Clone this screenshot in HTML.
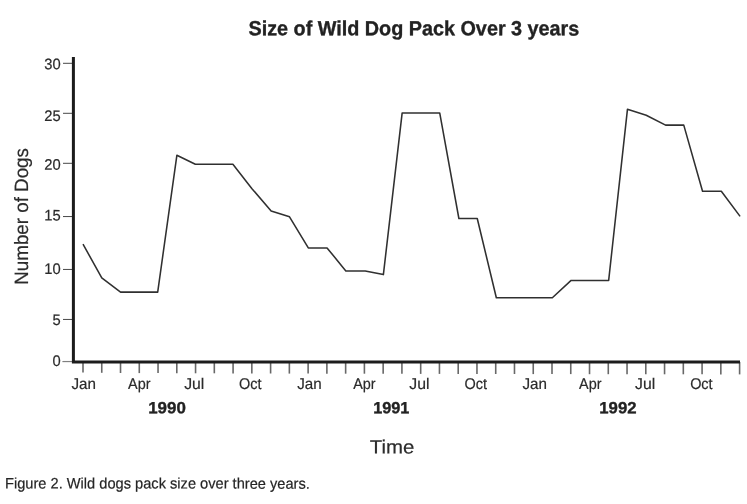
<!DOCTYPE html>
<html lang="en">
<head>
<meta charset="utf-8">
<title>Size of Wild Dog Pack Over 3 years</title>
<style>
html,body{margin:0;padding:0;background:#fff;}
body{width:747px;height:504px;overflow:hidden;position:relative;font-family:"Liberation Sans", Arial, Helvetica, sans-serif;}
figure{margin:0;padding:0;position:absolute;left:0;top:0;width:747px;height:504px;}
svg{display:block;position:absolute;left:0;top:0;}
svg text{font-family:"Liberation Sans", Arial, Helvetica, sans-serif;fill:#2b2b2b;stroke:#2b2b2b;stroke-width:0.2px;text-rendering:geometricPrecision;}
svg text.b{font-weight:bold;fill:#222;stroke:#222;stroke-width:0.35px;}
figcaption{position:absolute;left:5px;top:475px;margin:0;white-space:nowrap;font-size:15.2px;line-height:18px;color:#252525;-webkit-text-stroke:0.2px #252525;text-rendering:geometricPrecision;transform-origin:0 0;transform:translateY(0.5px) rotate(0.03deg) scaleX(0.963);}
</style>
</head>
<body>
<figure>
<svg width="747" height="466" viewBox="0 0 747 466" role="img" aria-label="Line chart: size of wild dog pack over 3 years">
<rect x="0" y="0" width="747" height="466" fill="#ffffff"/>
<g font-size="20.4" text-anchor="middle">
<text class="b" x="413.90" y="35.30" transform="rotate(0.03 413.90 35.30)" textLength="330.8" lengthAdjust="spacingAndGlyphs">Size of Wild Dog Pack Over 3 years</text>
</g>
<text transform="translate(27.6,216.4) rotate(-90)" text-anchor="middle" font-size="19.3" textLength="136.6" lengthAdjust="spacingAndGlyphs">Number of Dogs</text>
<g font-size="19.3" text-anchor="middle">
<text x="392.00" y="453.60" transform="rotate(0.03 392.00 453.60)" textLength="44.6" lengthAdjust="spacingAndGlyphs">Time</text>
</g>
<g stroke="#484848" stroke-width="1" fill="none">
<line x1="63.0" y1="63.3" x2="72.5" y2="63.3"/>
<line x1="63.0" y1="113.3" x2="72.5" y2="113.3"/>
<line x1="63.0" y1="163.3" x2="72.5" y2="163.3"/>
<line x1="63.0" y1="216.55" x2="72.5" y2="216.55"/>
<line x1="63.0" y1="269.45" x2="72.5" y2="269.45"/>
<line x1="63.0" y1="319.45" x2="72.5" y2="319.45"/>
<line x1="62.4" y1="361.55" x2="72.5" y2="361.55" stroke="#808080" stroke-width="1.2"/>
</g>
<g font-size="15.3" text-anchor="end">
<text x="60.70" y="69.20" transform="rotate(0.03 60.70 69.20)" textLength="16.4" lengthAdjust="spacingAndGlyphs">30</text>
<text x="60.70" y="121.00" transform="rotate(0.03 60.70 121.00)" textLength="16.4" lengthAdjust="spacingAndGlyphs">25</text>
<text x="60.70" y="169.70" transform="rotate(0.03 60.70 169.70)" textLength="16.4" lengthAdjust="spacingAndGlyphs">20</text>
<text x="60.70" y="220.40" transform="rotate(0.03 60.70 220.40)" textLength="16.4" lengthAdjust="spacingAndGlyphs">15</text>
<text x="60.70" y="274.00" transform="rotate(0.03 60.70 274.00)" textLength="16.4" lengthAdjust="spacingAndGlyphs">10</text>
<text x="60.70" y="325.10" transform="rotate(0.03 60.70 325.10)" textLength="8.2" lengthAdjust="spacingAndGlyphs">5</text>
<text x="60.70" y="366.00" transform="rotate(0.03 60.70 366.00)" textLength="8.2" lengthAdjust="spacingAndGlyphs">0</text>
</g>
<g stroke="#686868" stroke-width="1.6" fill="none">
<line x1="83.00" y1="362" x2="83.00" y2="372.5"/>
<line x1="101.76" y1="362" x2="101.76" y2="372.8"/>
<line x1="120.52" y1="362" x2="120.52" y2="373.0"/>
<line x1="139.28" y1="362" x2="139.28" y2="373.1"/>
<line x1="158.04" y1="362" x2="158.04" y2="373.1"/>
<line x1="176.80" y1="362" x2="176.80" y2="373.2"/>
<line x1="195.56" y1="362" x2="195.56" y2="373.3"/>
<line x1="214.32" y1="362" x2="214.32" y2="373.3"/>
<line x1="233.08" y1="362" x2="233.08" y2="373.4"/>
<line x1="251.84" y1="362" x2="251.84" y2="373.5"/>
<line x1="270.60" y1="362" x2="270.60" y2="373.5"/>
<line x1="289.36" y1="362" x2="289.36" y2="373.6"/>
<line x1="308.12" y1="362" x2="308.12" y2="373.6"/>
<line x1="326.88" y1="362" x2="326.88" y2="373.7"/>
<line x1="345.64" y1="362" x2="345.64" y2="373.7"/>
<line x1="364.40" y1="362" x2="364.40" y2="373.7"/>
<line x1="383.16" y1="362" x2="383.16" y2="373.8"/>
<line x1="401.92" y1="362" x2="401.92" y2="373.8"/>
<line x1="420.68" y1="362" x2="420.68" y2="373.9"/>
<line x1="439.44" y1="362" x2="439.44" y2="373.9"/>
<line x1="458.20" y1="362" x2="458.20" y2="373.9"/>
<line x1="476.96" y1="362" x2="476.96" y2="374.0"/>
<line x1="495.72" y1="362" x2="495.72" y2="374.0"/>
<line x1="514.48" y1="362" x2="514.48" y2="374.0"/>
<line x1="533.24" y1="362" x2="533.24" y2="374.1"/>
<line x1="552.00" y1="362" x2="552.00" y2="374.1"/>
<line x1="570.76" y1="362" x2="570.76" y2="374.1"/>
<line x1="589.52" y1="362" x2="589.52" y2="374.2"/>
<line x1="608.28" y1="362" x2="608.28" y2="374.2"/>
<line x1="627.04" y1="362" x2="627.04" y2="374.2"/>
<line x1="645.80" y1="362" x2="645.80" y2="374.3"/>
<line x1="664.56" y1="362" x2="664.56" y2="374.3"/>
<line x1="683.32" y1="362" x2="683.32" y2="374.3"/>
<line x1="702.08" y1="362" x2="702.08" y2="374.3"/>
<line x1="720.84" y1="362" x2="720.84" y2="374.4"/>
<line x1="739.60" y1="362" x2="739.60" y2="374.4"/>
</g>
<g font-size="15.5" text-anchor="middle">
<text x="83.70" y="388.90" transform="rotate(0.03 83.70 388.90)" textLength="24.5" lengthAdjust="spacingAndGlyphs">Jan</text>
<text x="139.28" y="388.90" transform="rotate(0.03 139.28 388.90)" textLength="22.4" lengthAdjust="spacingAndGlyphs">Apr</text>
<text x="194.26" y="388.90" transform="rotate(0.03 194.26 388.90)" textLength="20.2" lengthAdjust="spacingAndGlyphs">Jul</text>
<text x="250.24" y="388.90" transform="rotate(0.03 250.24 388.90)" textLength="22.5" lengthAdjust="spacingAndGlyphs">Oct</text>
<text x="309.42" y="388.90" transform="rotate(0.03 309.42 388.90)" textLength="24.5" lengthAdjust="spacingAndGlyphs">Jan</text>
<text x="364.40" y="388.90" transform="rotate(0.03 364.40 388.90)" textLength="22.4" lengthAdjust="spacingAndGlyphs">Apr</text>
<text x="419.38" y="388.90" transform="rotate(0.03 419.38 388.90)" textLength="20.2" lengthAdjust="spacingAndGlyphs">Jul</text>
<text x="475.76" y="388.90" transform="rotate(0.03 475.76 388.90)" textLength="22.5" lengthAdjust="spacingAndGlyphs">Oct</text>
<text x="534.74" y="388.90" transform="rotate(0.03 534.74 388.90)" textLength="24.5" lengthAdjust="spacingAndGlyphs">Jan</text>
<text x="590.32" y="388.90" transform="rotate(0.03 590.32 388.90)" textLength="22.4" lengthAdjust="spacingAndGlyphs">Apr</text>
<text x="645.10" y="388.90" transform="rotate(0.03 645.10 388.90)" textLength="20.2" lengthAdjust="spacingAndGlyphs">Jul</text>
<text x="701.38" y="388.90" transform="rotate(0.03 701.38 388.90)" textLength="22.5" lengthAdjust="spacingAndGlyphs">Oct</text>
</g>
<g font-size="16.2" text-anchor="middle">
<text class="b" x="167.00" y="413.30" transform="rotate(0.03 167.00 413.30)" textLength="37.6" lengthAdjust="spacingAndGlyphs">1990</text>
<text class="b" x="391.30" y="413.30" transform="rotate(0.03 391.30 413.30)" textLength="36.2" lengthAdjust="spacingAndGlyphs">1991</text>
<text class="b" x="617.90" y="413.30" transform="rotate(0.03 617.90 413.30)" textLength="37.2" lengthAdjust="spacingAndGlyphs">1992</text>
</g>
<path d="M73.4 57 V362.0 H740" fill="none" stroke="#1c1c1c" stroke-width="3" stroke-linejoin="miter"/>
<polyline points="83.00,244.2 101.77,277.8 120.55,292.1 139.32,292.1 157.70,292.1 176.87,155.3 195.34,164.2 214.42,164.2 232.89,164.2 251.97,188.7 271.14,210.9 289.51,216.8 308.29,247.9 327.06,247.9 345.84,270.9 365.21,270.9 383.38,274.6 402.16,112.9 420.93,112.9 439.71,112.9 458.88,218.5 477.25,218.5 496.33,297.7 514.80,297.7 533.58,297.7 552.35,297.7 571.12,280.4 589.90,280.4 608.67,280.4 627.45,109.3 646.22,115.3 665.59,125.1 683.77,125.1 702.54,191.2 721.32,191.2 740.09,216.4" fill="none" stroke="#303030" stroke-width="1.55" stroke-linejoin="round" stroke-linecap="butt"/>
</svg>
<figcaption>Figure 2. Wild dogs pack size over three years.</figcaption>
</figure>
</body>
</html>
